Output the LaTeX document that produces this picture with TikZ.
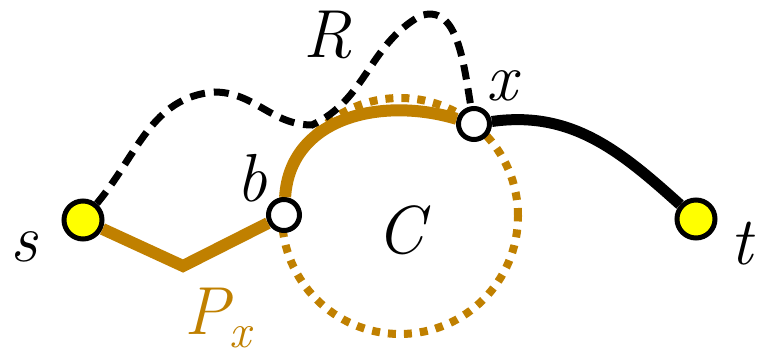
\documentclass[tikz,border=0pt]{standalone}
\usepackage{fontspec}
\usepackage{tikz}
\usetikzlibrary{positioning}
\definecolor{walkgold}{RGB}{192,128,0}
\definecolor{walkyellow}{RGB}{255,255,0}
\tikzset{
  walk-end/.style={circle, draw=black, fill=walkyellow, line width=5pt, minimum size=38pt, inner sep=0pt},
  walk-inner/.style={circle, draw=black, fill=white, line width=5pt, minimum size=31pt, inner sep=0pt},
  walk-label/.style={font=\fontsize{68}{80}\selectfont\itshape, inner sep=0pt},
  walk-prefix/.style={draw=walkgold, line width=12pt},
  walk-ring/.style={circle, draw=walkgold, line width=8pt, dash pattern=on 8pt off 8pt, minimum size=236pt, inner sep=0pt},
  walk-detour/.style={draw=black, line width=7pt, dash pattern=on 15pt off 9pt},
  walk-tail/.style={draw=black, line width=11pt}
}
\begin{document}
\begin{tikzpicture}[x=1pt, y=1pt]
  \useasboundingbox (0,0) rectangle (763,358);

  % Cycle C
  \node[walk-ring] (cyc) at (400,142) {};
  \node[walk-label] (clab) at (400,128) {C};

  % Vertices
  \node[walk-end] (s) at (83,138) {};
  \node[walk-end] (t) at (696,139) {};
  \node[walk-inner] (b) at (284,143) {};
  \node[walk-inner] (x) at (474,234) {};
  \coordinate (pbend) at (183,92);

  % Vertex labels
  \node[walk-label] (slab) at (24,111) {s};
  \node[walk-label] (tlab) at (742,114) {t};
  \node[walk-label] (blab) at (252,180) {b};
  \node[walk-label] (xlab) at (502,272) {x};
  \node[walk-label] (rlab) at (328,323) {R};
  \node[walk-label, text=walkgold] (plab) at (218,40) {P\textsubscript{x}};

  % Prefix P_x and its run along C
  \draw[walk-prefix] (s) -- (pbend) -- (b);
  \draw[walk-prefix] (b) .. controls (290,240) and (380,262) .. (x);

  % Detour R
  \draw[walk-detour] (s) to[out=50,in=185] (214,266) to[out=0,in=180] (312,233)
    to[out=25,in=210] (420,342) to[out=20,in=100] (x);

  % Tail to t
  \draw[walk-tail] (x) to[out=8,in=138] (t);
\end{tikzpicture}
\end{document}
